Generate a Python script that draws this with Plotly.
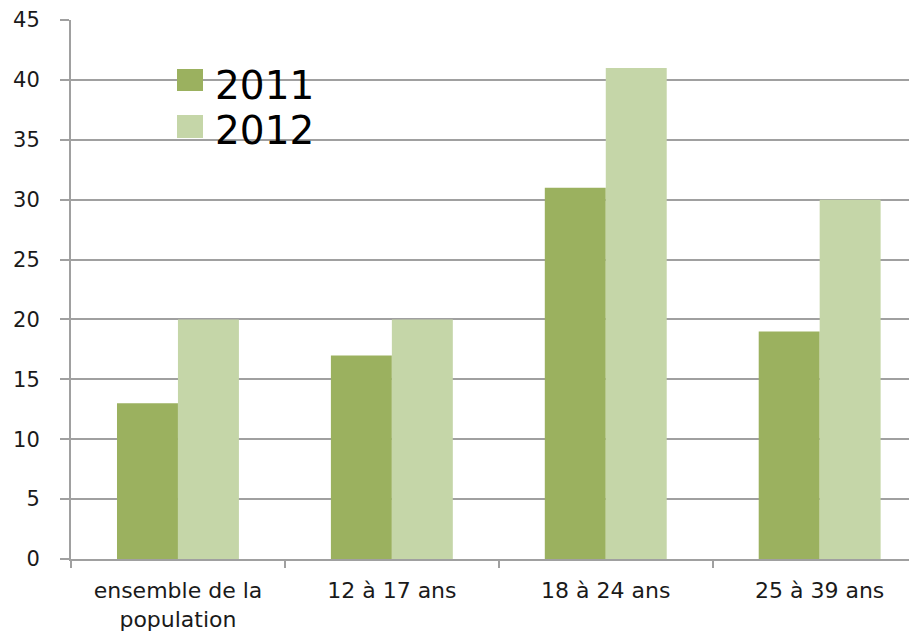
import plotly.graph_objects as go

categories = ["ensemble de la<br>population", "12 à 17 ans", "18 à 24 ans", "25 à 39 ans"]
values_2011 = [13, 17, 31, 19]
values_2012 = [20, 20, 41, 30]
series_names = ["2011", "2012"]
colors = ["#9BB15F", "#C5D6A8"]
y_ticks = [0, 5, 10, 15, 20, 25, 30, 35, 40, 45]

# page body has an 8px margin; size the figure so it ends at the window edge
OFF = 8
W, H = 917 - OFF, 635 - OFF
PL, PT, PB = 71, 20, 559          # plot area in window pixels
L, T, B, R = PL - OFF, PT - OFF, 635 - PB, 0
pw, ph = 917 - PL, PB - PT

def px(x):
    return (x - PL) / pw

def py(y):
    return (PB - y) / ph

fig = go.Figure()
for name, vals, col in zip(series_names, [values_2011, values_2012], colors):
    fig.add_trace(go.Bar(x=categories, y=vals, name=name, marker_color=col,
                         marker_line_width=0, showlegend=False))

fig.update_layout(
    width=W, height=H,
    margin=dict(l=L, r=R, t=T, b=B, pad=0),
    paper_bgcolor="white", plot_bgcolor="white",
    barmode="group", bargap=0.43, bargroupgap=0,
    font=dict(family="DejaVu Sans", color="#1a1a1a"),
)
fig.update_xaxes(
    range=[-0.5, 3.455], tickson="boundaries", ticks="outside", ticklen=7,
    tickwidth=2, tickcolor="#A0A0A0", showline=True, linecolor="#A0A0A0", linewidth=2,
    showgrid=False, tickfont=dict(size=22, color="#1a1a1a"), ticklabelstandoff=11,
    automargin=False,
)
fig.update_yaxes(
    range=[0, 45], tickvals=y_ticks, ticks="outside", ticklen=9, tickwidth=2,
    tickcolor="#A0A0A0", showline=True, linecolor="#A0A0A0", linewidth=2,
    showgrid=True, gridcolor="#A0A0A0", gridwidth=2, zeroline=False,
    tickfont=dict(size=21, color="#1a1a1a"), ticklabelstandoff=16,
    automargin=False,
)

# custom legend
sw = [(69, 91), (115, 138)]
ty = [85, 130]
for (y0, y1), col, name, yc in zip(sw, colors, series_names, ty):
    fig.add_shape(type="rect", xref="paper", yref="paper",
                  x0=px(177), x1=px(203), y0=py(y1), y1=py(y0),
                  fillcolor=col, line_width=0)
    fig.add_annotation(xref="paper", yref="paper", x=px(213), y=py(yc),
                       xanchor="left", yanchor="middle", text=name, showarrow=False,
                       font=dict(size=39, color="#000000", family="DejaVu Sans"))

fig.write_html("out.html")
